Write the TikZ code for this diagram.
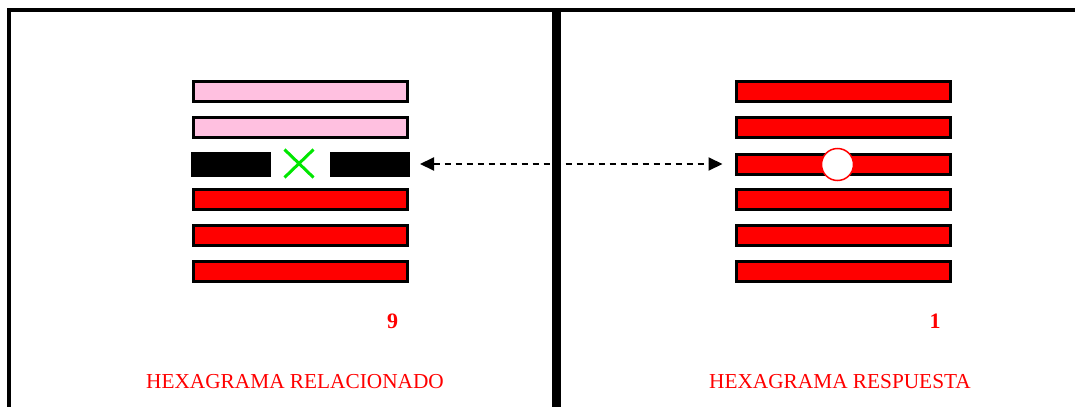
\documentclass[tikz,border=0pt]{standalone}
\usepackage{fontspec}
\setmainfont{Liberation Serif}
\usetikzlibrary{arrows.meta,shapes.misc}
\definecolor{pinkbar}{RGB}{255,192,224}
\definecolor{redbar}{RGB}{255,0,0}
\definecolor{xgreen}{RGB}{0,230,0}
\tikzset{
  bar/.style={draw=black, line width=3pt, inner sep=0pt, minimum width=214pt, minimum height=20pt},
  yinbar/.style={bar, fill=pinkbar},
  yangbar/.style={bar, fill=redbar},
  halfbar/.style={draw=black, fill=black, line width=0pt, inner sep=0pt, minimum width=79pt, minimum height=24pt},
  frameline/.style={draw=black, line width=4pt},
  numlabel/.style={text=redbar, font=\fontsize{22}{24}\selectfont\bfseries, inner sep=0pt},
  caption/.style={text=redbar, font=\fontsize{21.3}{24}\selectfont, inner sep=0pt},
  link/.style={line width=2pt, dash pattern=on 6pt off 5pt, {Triangle[length=14pt,width=13pt]}-{Triangle[length=14pt,width=13pt]}}
}
\begin{document}
\begin{tikzpicture}[x=1pt,y=-1pt]
\useasboundingbox (0,0) rectangle (1075,407);
% frame
\draw[frameline] (9,10) -- (1075,10);
\draw[frameline] (9,8) -- (9,407);
\draw[draw=black, line width=8.5pt] (556.5,8) -- (556.5,407);
% left hexagram
\node[yinbar] (l1) at (300,91.5) {};
\node[yinbar] (l2) at (300,127.5) {};
\node[halfbar] (l3a) at (230.5,164) {};
\node[halfbar] (l3b) at (369.5,164) {};
\node[cross out, draw=xgreen, line width=3pt, minimum width=26pt, minimum height=25pt, inner sep=0pt] (lx) at (299,163.5) {};
\node[yangbar] (l4) at (300,199.5) {};
\node[yangbar] (l5) at (300,235.5) {};
\node[yangbar] (l6) at (300,271.5) {};
% right hexagram
\node[yangbar] (r1) at (843,91.5) {};
\node[yangbar] (r2) at (843,127.5) {};
\node[yangbar] (r3) at (843,164) {};
\node[yangbar] (r4) at (843,199.5) {};
\node[yangbar] (r5) at (843,235.5) {};
\node[yangbar] (r6) at (843,271.5) {};
\node[circle, draw=redbar, fill=white, line width=1.5pt, minimum size=32pt, inner sep=0pt] (rc) at (837.5,164.5) {};
% link
\draw[link, shorten <=11pt, shorten >=12pt] (l3b.east) -- (r3.west);
% labels
\node[numlabel] (n9) at (392.5,321) {9};
\node[numlabel] (n1) at (935,321) {1};
\node[caption] (cl) at (295,382) {HEXAGRAMA RELACIONADO};
\node[caption] (cr) at (840,382) {HEXAGRAMA RESPUESTA};
\end{tikzpicture}
\end{document}
